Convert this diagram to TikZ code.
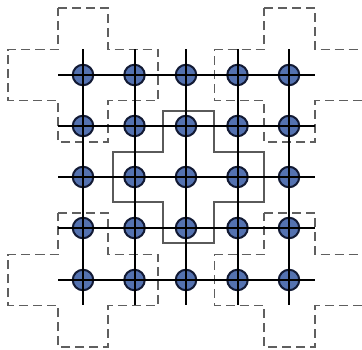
\documentclass[tikz,border=0pt]{standalone}
\usetikzlibrary{calc}
\definecolor{nodefill}{RGB}{84,114,176}
\definecolor{nodeline}{RGB}{18,26,52}
\definecolor{dashgray}{RGB}{95,95,95}
\definecolor{crossgray}{RGB}{90,90,90}
\newcommand\plusshape[7]{% style, cx, cy, a, b, H, V
  \draw[#1] (#2-#4,#3-#7) -- (#2+#4,#3-#7) -- (#2+#4,#3-#5) -- (#2+#6,#3-#5)
    -- (#2+#6,#3+#5) -- (#2+#4,#3+#5) -- (#2+#4,#3+#7) -- (#2-#4,#3+#7)
    -- (#2-#4,#3+#5) -- (#2-#6,#3+#5) -- (#2-#6,#3-#5) -- (#2-#4,#3-#5) -- cycle;}
\tikzset{
  dashcross/.style={draw=dashgray,line width=1.6pt,dash pattern=on 9pt off 5pt},
  solidcross/.style={draw=crossgray,line width=1.5pt},
  gridline/.style={draw=black,line width=2pt},
  qubit/.style={circle,draw=nodeline,fill=nodefill,line width=2pt,minimum size=20.5pt,inner sep=0pt},
}
\begin{document}
\begin{tikzpicture}[x=1pt,y=-1pt]
\useasboundingbox[fill=white] (0,0) rectangle (362,349);
% dashed corner crosses
\plusshape{dashcross}{83}{75}{25}{25.5}{75}{67}
\plusshape{dashcross}{289.5}{75}{25.5}{25.5}{75}{67}
\plusshape{dashcross}{83}{280}{25}{25.5}{75}{67}
\plusshape{dashcross}{289.5}{280}{25.5}{25.5}{75}{67}
% central solid cross
\plusshape{solidcross}{188.5}{177}{25.5}{25}{75.5}{66}
% nodes
\foreach \i/\x in {1/83,2/134.5,3/186,4/237.5,5/289}{
  \foreach \j/\y in {1/75,2/126,3/177,4/228,5/280}{
    \node[qubit] (n\i\j) at (\x,\y) {};
  }
}
% line ends
\foreach \j/\y in {1/75,2/126,3/177,4/228,5/280}{
  \coordinate (L\j) at (58,\y);
  \coordinate (R\j) at (315,\y);
}
\foreach \i/\x in {1/83,2/134.5,3/186,4/237.5,5/289}{
  \coordinate (T\i) at (\x,49);
  \coordinate (B\i) at (\x,305);
}
\foreach \k in {1,...,5}{
  \draw[gridline] (L\k) -- (R\k);
  \draw[gridline] (T\k) -- (B\k);
}
\end{tikzpicture}
\end{document}
